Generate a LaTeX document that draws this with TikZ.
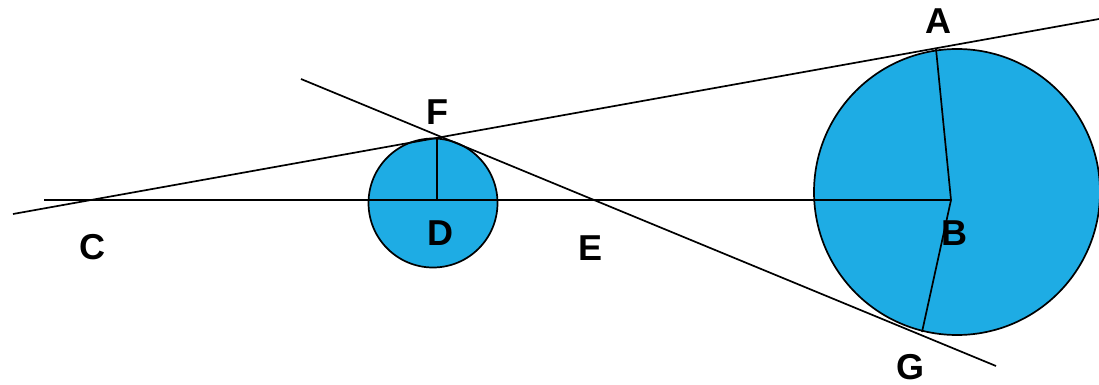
\documentclass[tikz,border=0pt]{standalone}
\usepackage{fontspec}
\setmainfont{Liberation Sans}
\definecolor{ballblue}{RGB}{30,172,228}
\begin{document}
\begin{tikzpicture}[x=1pt,y=-1pt,
  ball/.style={fill=ballblue,draw=black,line width=1.7pt},
  seg/.style={draw=black,line width=1.7pt},
  lbl/.style={font=\fontsize{36}{40}\selectfont\bfseries,inner sep=0pt,anchor=center}]
\clip (0,0) rectangle (1099,385);
\useasboundingbox (0,0) rectangle (1099,385);
% circles
\coordinate (Dc) at (433,203);
\coordinate (Bc) at (957,192);
\draw[ball] (Dc) circle[radius=64.5];
\draw[ball] (Bc) circle[radius=143];
% points
\coordinate (pA) at (936,49);
\coordinate (pB) at (951,200);
\coordinate (pG) at (922,332);
\coordinate (pF) at (437,138);
\coordinate (pD) at (437,200);
\coordinate (hL) at (44,200);
\coordinate (cL) at (13,214);
\coordinate (cR) at (1099,19);
\coordinate (tL) at (301,79);
\coordinate (tR) at (996,366);
% lines
\draw[seg] (cL) -- (cR);
\draw[seg] (tL) -- (tR);
\draw[seg] (hL) -- (pB);
\draw[seg] (pF) -- (pD);
\draw[seg] (pA) -- (pB) -- (pG);
% labels
\node[lbl] (A) at (938,21) {A};
\node[lbl] (B) at (954,233) {B};
\node[lbl] (G) at (910,367) {G};
\node[lbl] (F) at (437,112) {F};
\node[lbl] (D) at (440,233) {D};
\node[lbl] (C) at (92,247) {C};
\node[lbl] (E) at (590,248) {E};
\end{tikzpicture}
\end{document}
